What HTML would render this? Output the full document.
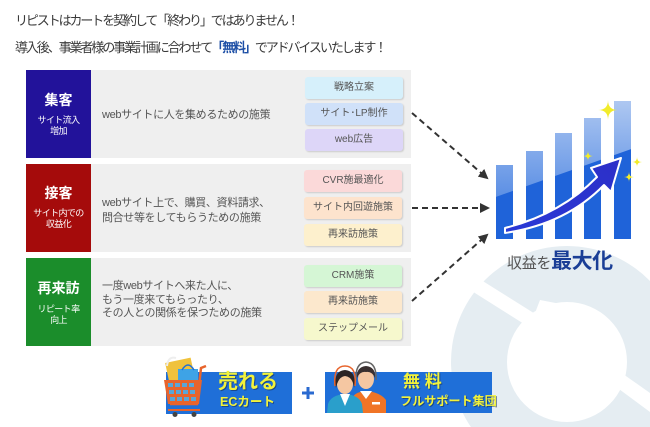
<!DOCTYPE html>
<html lang="ja">
<head>
<meta charset="utf-8">
<style>
  html{margin:0;padding:0;width:650px;height:427px;overflow:hidden;}
  body{margin:0;padding:0;width:650px;height:427px;overflow:hidden;background:#fff;position:relative;
       font-family:"Liberation Sans","Noto Sans CJK JP",sans-serif;color:#444;}
  .abs{position:absolute;}
  svg{display:block;}
  .title{left:15px;font-size:13px;line-height:16px;color:#3a3a3a;letter-spacing:-2.1px;white-space:nowrap;}
  .title b{color:#1d4fa6;}
  .lab{position:absolute;left:26px;width:65px;height:88px;color:#fff;text-align:center;overflow:hidden;}
  .lab .m{position:absolute;left:0;width:65px;font-size:14px;font-weight:bold;line-height:16px;}
  .lab .s{position:absolute;left:0;width:65px;font-size:9px;line-height:10.5px;letter-spacing:-0.6px;}
  .panel{position:absolute;left:91px;width:320px;height:88px;background:#efefef;}
  .desc{position:absolute;left:102px;font-size:11px;line-height:14.5px;color:#555;letter-spacing:-0.35px;white-space:nowrap;}
  .pill{position:absolute;width:98px;height:22px;border-radius:3px;font-size:10px;line-height:22px;
        text-align:center;color:#555;box-shadow:1px 1px 1.5px rgba(0,0,0,0.15);white-space:nowrap;overflow:hidden;}
  .yel{position:absolute;color:#f2f23a;font-weight:bold;white-space:nowrap;
       text-shadow:1px 1px 0 rgba(20,40,80,0.55);}
</style>
</head>
<body>

<!-- background recycle ring -->
<svg class="abs" style="left:0;top:0" width="650" height="427" viewBox="0 0 650 427">
  <path fill-rule="evenodd" fill="#e5edf2"
        d="M470.9,427 A116,116 0 0 1 650,281 L650,427 Z
           M627,362 A60,60 0 1 0 507,362 A60,60 0 1 0 627,362 Z"/>
  <!-- gaps -->
  <polygon points="448,276 462,268 548,322 540,334" fill="#fff"/>
  <polygon points="540,300 566,305 548,334 530,326" fill="#fff"/>
  <polygon points="596,372 606,362 650,393 650,412" fill="#fff"/>
</svg>

<div class="abs title" style="top:13px;">リピストはカートを契約して「終わり」ではありません！</div>
<div class="abs title" style="top:40px;">導入後、事業者様の事業計画に合わせて<b>「無料」</b>でアドバイスいたします！</div>

<!-- Row 1 -->
<div class="panel" style="top:70px;"></div>
<div class="lab" style="top:70px;background:#22129a;">
  <div class="m" style="top:22px;">集客</div>
  <div class="s" style="top:45px;">サイト流入<br>増加</div>
</div>
<div class="desc" style="top:108px;">webサイトに人を集めるための施策</div>
<div class="pill" style="left:305px;top:77px;background:#d6f0fb;">戦略立案</div>
<div class="pill" style="left:305px;top:103px;background:#d0e1f9;">サイト･LP制作</div>
<div class="pill" style="left:305px;top:129px;background:#ddd6f8;">web広告</div>

<!-- Row 2 -->
<div class="panel" style="top:164px;"></div>
<div class="lab" style="top:164px;background:#a50b0b;">
  <div class="m" style="top:21px;">接客</div>
  <div class="s" style="top:44px;">サイト内での<br>収益化</div>
</div>
<div class="desc" style="top:196px;">webサイト上で、購買、資料請求、<br>問合せ等をしてもらうための施策</div>
<div class="pill" style="left:304px;top:170px;background:#fbd9d9;">CVR施最適化</div>
<div class="pill" style="left:304px;top:197px;background:#fde3cd;">サイト内回遊施策</div>
<div class="pill" style="left:304px;top:224px;background:#fdf0cd;">再来訪施策</div>

<!-- Row 3 -->
<div class="panel" style="top:258px;"></div>
<div class="lab" style="top:258px;background:#1b8d2b;">
  <div class="m" style="top:22px;">再来訪</div>
  <div class="s" style="top:46px;">リピート率<br>向上</div>
</div>
<div class="desc" style="top:280px;line-height:13.5px;">一度webサイトへ来た人に、<br>もう一度来てもらったり、<br>その人との関係を保つための施策</div>
<div class="pill" style="left:304px;top:265px;background:#d5f6d5;">CRM施策</div>
<div class="pill" style="left:304px;top:291px;background:#fce8cd;">再来訪施策</div>
<div class="pill" style="left:304px;top:318px;background:#f6f8cd;">ステップメール</div>

<!-- graphics overlay -->
<svg class="abs" style="left:0;top:0" width="650" height="427" viewBox="0 0 650 427">
  <defs>
    <marker id="ah" markerWidth="10" markerHeight="10" refX="8" refY="5" orient="auto" markerUnits="userSpaceOnUse">
      <path d="M0,0 L10,5 L0,10 Z" fill="#333"/>
    </marker>
    <linearGradient id="gl" x1="0" y1="0" x2="0" y2="1">
      <stop offset="0" stop-color="#b3cbf2"/>
      <stop offset="1" stop-color="#5a8ee4"/>
    </linearGradient>
    <linearGradient id="ar" x1="0" y1="1" x2="1" y2="0">
      <stop offset="0" stop-color="#2a39d6"/>
      <stop offset="1" stop-color="#2c2fc8"/>
    </linearGradient>
    <clipPath id="bars">
      <rect x="496" y="165" width="17" height="74"/>
      <rect x="526" y="151" width="17" height="88"/>
      <rect x="555" y="133" width="17" height="106"/>
      <rect x="584" y="118" width="17" height="121"/>
      <rect x="614" y="101" width="17" height="138"/>
    </clipPath>
  </defs>

  <!-- dashed arrows -->
  <line x1="412" y1="113" x2="487" y2="178" stroke="#333" stroke-width="2" stroke-dasharray="6,4" marker-end="url(#ah)"/>
  <line x1="412" y1="208" x2="488" y2="208" stroke="#333" stroke-width="2" stroke-dasharray="6,4" marker-end="url(#ah)"/>
  <line x1="412" y1="301" x2="487" y2="235" stroke="#333" stroke-width="2" stroke-dasharray="6,4" marker-end="url(#ah)"/>

  <!-- bars -->
  <g clip-path="url(#bars)">
    <rect x="490" y="95" width="150" height="150" fill="#1f63d9"/>
    <polygon points="490,95 640,95 640,146 490,199" fill="url(#gl)"/>
  </g>

  <!-- big arrow -->
  <path d="M505,228 Q561,214 597,177 L591,168 L621,158 L611,192 L604,185 Q566,224 505,233 Z"
        fill="url(#ar)" stroke="#fff" stroke-width="2" stroke-linejoin="round"/>

  <!-- sparkles -->
  <g fill="#f2ec2a">
    <path d="M608,100 Q608,110 618,110 Q608,110 608,120 Q608,110 598,110 Q608,110 608,100 Z"/>
    <path d="M588,151 Q588,156 593,156 Q588,156 588,161 Q588,156 583,156 Q588,156 588,151 Z"/>
    <path d="M637,157 Q637,162 642,162 Q637,162 637,167 Q637,162 632,162 Q637,162 637,157 Z"/>
    <path d="M629,172 Q629,177 634,177 Q629,177 629,182 Q629,177 624,177 Q629,177 629,172 Z"/>
  </g>

  <!-- banner 1 -->
  <rect x="166" y="372" width="126" height="42" fill="#1f6fd8"/>
  <!-- bags -->
  <rect x="168" y="360" width="26" height="30" fill="#f0c23c" transform="rotate(-12 181 375)"/>
  <path d="M167,366 Q168,356 176,358" fill="none" stroke="#eee" stroke-width="2"/>
  <rect x="178" y="369" width="20" height="20" fill="#3ea3e6"/>
  <path d="M182,370 Q188,360 194,370" fill="none" stroke="#1f6fd8" stroke-width="1.5"/>
  <!-- cart -->
  <path d="M206,366 L201,368 L197,404 L170,404" fill="none" stroke="#e8642c" stroke-width="2.5"/>
  <path d="M164,380 L202,380 L199,404 L168,404 Z" fill="#e8642c"/>
  <g fill="#5aa6d8">
    <rect x="168" y="383" width="5" height="4"/><rect x="175" y="383" width="5" height="4"/><rect x="182" y="383" width="5" height="4"/><rect x="189" y="383" width="5" height="4"/>
    <rect x="169" y="390" width="5" height="4"/><rect x="176" y="390" width="5" height="4"/><rect x="183" y="390" width="5" height="4"/><rect x="190" y="390" width="5" height="4"/>
    <rect x="170" y="397" width="5" height="4"/><rect x="177" y="397" width="5" height="4"/><rect x="184" y="397" width="5" height="4"/><rect x="191" y="397" width="5" height="4"/>
  </g>
  <line x1="168" y1="410" x2="200" y2="410" stroke="#e8642c" stroke-width="2"/>
  <circle cx="175" cy="414.5" r="2.5" fill="#444"/>
  <circle cx="194" cy="414.5" r="2.5" fill="#444"/>

  <!-- plus -->
  <path d="M308,387 L308,399 M302,393 L314,393" stroke="#2a6ad0" stroke-width="3"/>

  <!-- banner 2 -->
  <rect x="325" y="372" width="167" height="41" fill="#1f6fd8"/>
  <!-- man (behind) -->
  <path d="M352,413 L352,400 Q353,392 366,391 Q380,392 386,400 L386,413 Z" fill="#f07426"/>
  <path d="M360,391 L366,399 L372,391 Z" fill="#fff"/>
  <rect x="372" y="402" width="8" height="2.5" fill="#fff"/>
  <ellipse cx="366" cy="379" rx="8" ry="10" fill="#f5c7a2"/>
  <path d="M357,378 Q356,367 366,366 Q376,367 375,378 Q372,371 366,372 Q360,371 357,378 Z" fill="#3a3030"/>
  <path d="M356,380 Q355,363 366,362 Q377,363 376,380" fill="none" stroke="#666" stroke-width="1.5"/>
  <!-- woman (front) -->
  <path d="M327,413 L328,404 Q331,395 345,394 Q359,395 362,404 L363,413 Z" fill="#2a9fcb"/>
  <path d="M340,394 L345,406 L350,394 Z" fill="#fff"/>
  <ellipse cx="345" cy="384" rx="8" ry="10" fill="#f5c7a2"/>
  <path d="M336,388 Q333,371 345,370 Q357,371 354,388 Q353,377 345,376 Q338,377 336,388 Z" fill="#2c2424"/>
  <path d="M335,386 Q333,366 345,366 Q357,366 355,386" fill="none" stroke="#e8642c" stroke-width="1.5"/>
</svg>

<!-- banner texts -->
<div class="yel" style="left:218px;top:370px;font-size:20px;line-height:24px;">売れる</div>
<div class="yel" style="left:220px;top:395px;font-size:12.5px;line-height:15px;">ECカート</div>
<div class="yel" style="left:403px;top:372px;font-size:17px;line-height:20px;">無 料</div>
<div class="yel" style="left:400px;top:394px;font-size:12.2px;line-height:15px;letter-spacing:-0.1px;">フルサポート集団</div>

<!-- chart caption -->
<div class="abs" style="left:507px;top:250px;white-space:nowrap;line-height:24px;">
  <span style="font-size:15px;color:#555;letter-spacing:-0.3px;">収益を</span><span style="font-size:21px;font-weight:bold;color:#1a3e96;letter-spacing:-0.5px;">最大化</span>
</div>

</body>
</html>
